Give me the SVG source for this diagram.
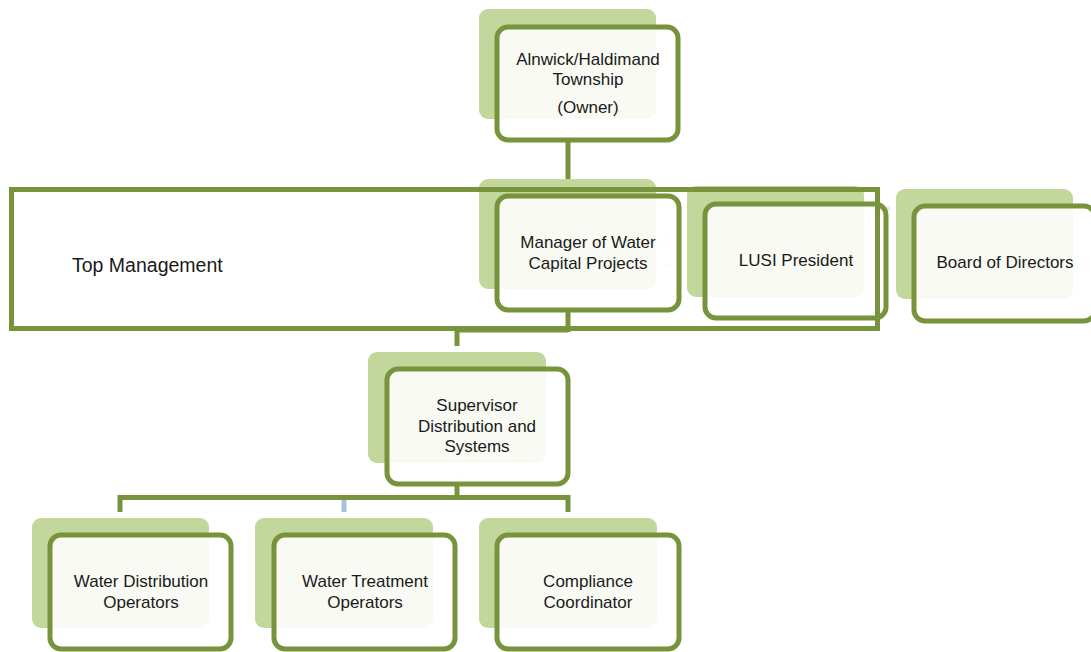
<svg xmlns="http://www.w3.org/2000/svg" width="1091" height="652" viewBox="0 0 1091 652">
<style>
.back{fill:#c3d69b;}
.front{fill:#ffffff;fill-opacity:0.88;stroke:#77933c;stroke-width:5;}
.conn{fill:none;stroke:#77933c;stroke-width:5;}
.ghost{fill:none;stroke:#dfe8f2;stroke-width:4;}
.ghostb{fill:none;stroke:#a9bedf;stroke-width:5;}
.light{fill:none;stroke:#eef0e8;stroke-width:4;}
text{font-family:"Liberation Sans",Arial,sans-serif;font-size:17px;fill:#1a1a1a;text-anchor:middle;}
</style>
<rect width="1091" height="652" fill="#ffffff"/>
<g id="connectors">
<line class="light" x1="568" y1="124" x2="568" y2="146"/>
<line class="conn" x1="568" y1="142" x2="568" y2="180"/>
<line class="light" x1="568" y1="293" x2="568" y2="313"/>
<line class="ghost" x1="662" y1="245" x2="677" y2="233"/>
<line class="ghost" x1="662" y1="268" x2="677" y2="262"/>
<line class="ghost" x1="870" y1="215" x2="890" y2="208"/>
<line class="light" x1="457" y1="466" x2="457" y2="486"/>
<path class="conn" d="M120,512 V497.5 H568 V512"/>
<line class="conn" x1="457" y1="484" x2="457" y2="498"/>
<line class="ghostb" x1="344" y1="500" x2="344" y2="512"/>
</g>
<g id="node-owner">
<rect class="back" x="479" y="9" width="177" height="110" rx="9"/>
<rect class="front" x="497" y="27" width="181" height="113" rx="11"/>
<text x="588" y="65">Alnwick/Haldimand</text>
<text x="588" y="85">Township</text>
<text x="588" y="113">(Owner)</text>
</g>
<g id="node-manager">
<rect class="back" x="479" y="179" width="177" height="110" rx="9"/>
<rect class="front" x="497" y="196" width="182" height="114" rx="11"/>
<text x="588" y="248">Manager of Water</text>
<text x="588" y="269">Capital Projects</text>
</g>
<g id="node-lusi">
<rect class="back" x="687" y="186" width="177" height="111" rx="9"/>
<rect class="front" x="705" y="204" width="181" height="114" rx="11"/>
<text x="796" y="266">LUSI President</text>
</g>
<g id="node-board">
<rect class="back" x="896" y="189" width="177" height="110" rx="9"/>
<rect class="front" x="914" y="206" width="181" height="115" rx="11"/>
<text x="1005" y="268">Board of Directors</text>
</g>
<g id="node-supervisor">
<rect class="back" x="368" y="352" width="178" height="111" rx="9"/>
<rect class="front" x="387" y="369" width="181" height="115" rx="11"/>
<text x="477" y="411">Supervisor</text>
<text x="477" y="432">Distribution and</text>
<text x="477" y="452">Systems</text>
</g>
<g id="node-wdo">
<rect class="back" x="32" y="518" width="177" height="110" rx="9"/>
<rect class="front" x="50" y="535" width="181" height="114" rx="11"/>
<text x="141" y="587">Water Distribution</text>
<text x="141" y="608">Operators</text>
</g>
<g id="node-wto">
<rect class="back" x="255" y="518" width="178" height="110" rx="9"/>
<rect class="front" x="274" y="535" width="181" height="114" rx="11"/>
<text x="365" y="587">Water Treatment</text>
<text x="365" y="608">Operators</text>
</g>
<g id="node-cc">
<rect class="back" x="479" y="518" width="178" height="110" rx="9"/>
<rect class="front" x="497" y="535" width="182" height="114" rx="11"/>
<text x="588" y="587">Compliance</text>
<text x="588" y="608">Coordinator</text>
</g>
<g id="top-management">
<rect x="11.5" y="189.5" width="866" height="139" fill="none" stroke="#77933c" stroke-width="5"/>
<text x="72" y="272" style="text-anchor:start;font-size:19.5px">Top Management</text>
</g>
<g id="connectors-lower">
<line class="conn" x1="568" y1="310" x2="568" y2="332"/>
<path class="conn" d="M457,346 V330 H568"/>
</g>
</svg>
